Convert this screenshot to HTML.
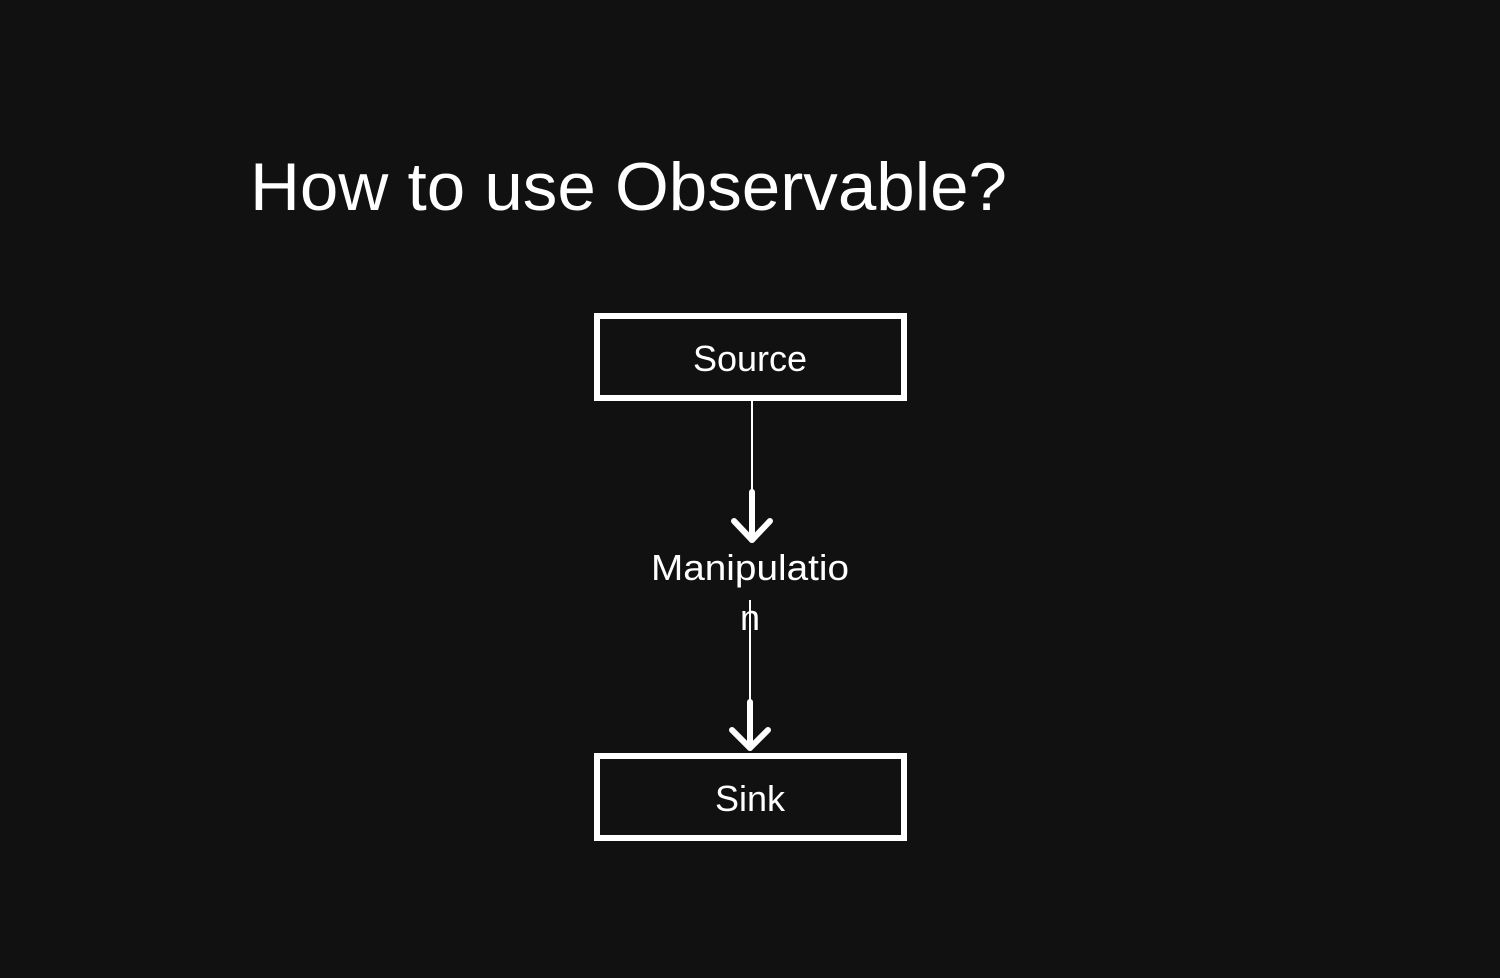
<!DOCTYPE html>
<html><head><style>
html,body{margin:0;padding:0;background:#111;width:1500px;height:978px;overflow:hidden}
</style></head><body>
<svg width="1500" height="978" xmlns="http://www.w3.org/2000/svg" style="position:absolute;left:0;top:0">
<rect width="1500" height="978" fill="#111"/>
<text x="250" y="210" fill="#fff" font-family="Liberation Sans, sans-serif" font-size="68" textLength="757" lengthAdjust="spacingAndGlyphs">How to use Observable?</text>
<rect x="597" y="316" width="307" height="82" fill="#111" stroke="#fff" stroke-width="6"/>
<text x="750" y="371" fill="#fff" text-anchor="middle" font-family="Liberation Sans, sans-serif" font-size="36">Source</text>
<rect x="597" y="756" width="307" height="82" fill="#111" stroke="#fff" stroke-width="6"/>
<text x="750" y="811" fill="#fff" text-anchor="middle" font-family="Liberation Sans, sans-serif" font-size="36">Sink</text>
<line x1="752" y1="401" x2="752" y2="492" stroke="#fff" stroke-width="2"/>
<line x1="752" y1="492" x2="752" y2="540" stroke="#fff" stroke-width="6" stroke-linecap="round"/>
<polyline points="734,521 752,540 770,521" fill="none" stroke="#fff" stroke-width="6" stroke-linecap="round" stroke-linejoin="round"/>
<text x="651" y="580" fill="#fff" font-family="Liberation Sans, sans-serif" font-size="36" textLength="198" lengthAdjust="spacingAndGlyphs">Manipulatio</text>
<text x="750" y="630" fill="#fff" text-anchor="middle" font-family="Liberation Sans, sans-serif" font-size="36">n</text>
<line x1="750" y1="600" x2="750" y2="702" stroke="#fff" stroke-width="2"/>
<line x1="750" y1="702" x2="750" y2="748" stroke="#fff" stroke-width="6" stroke-linecap="round"/>
<polyline points="732,730 750,748 768,730" fill="none" stroke="#fff" stroke-width="6" stroke-linecap="round" stroke-linejoin="round"/>
</svg>
</body></html>
